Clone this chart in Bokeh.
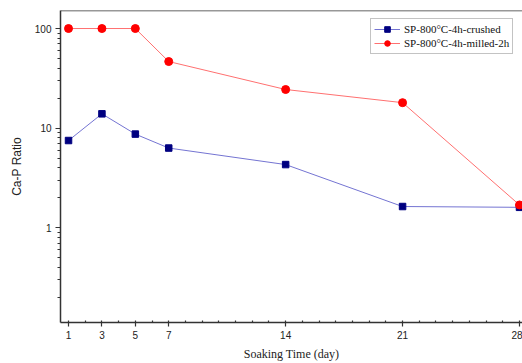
from bokeh.plotting import figure
from bokeh.models import (FixedTicker, PrintfTickFormatter, Range1d, Span,
                          Legend, LegendItem)
from bokeh.embed import file_html
from bokeh.resources import INLINE

# Soaking time (days) and Ca/P ratios for the two powders
days = [1, 3, 5, 7, 14, 21, 28]
crushed = [7.5, 13.9, 8.7, 6.3, 4.3, 1.63, 1.60]
milled = [100, 100, 100, 46.6, 24.4, 18.0, 1.69]

x_major = [1, 3, 5, 7, 14, 21, 28]
x_minor = list(range(1, 29))
y_major = [1, 10, 100]
y_minor = [0.2, 0.3, 0.4, 0.5, 0.6, 0.7, 0.8, 0.9,
           2, 3, 4, 5, 6, 7, 8, 9,
           20, 30, 40, 50, 60, 70, 80, 90]

label_crushed = "SP-800\u00b0C-4h-crushed"
label_milled = "SP-800\u00b0C-4h-milled-2h"

y_lo, y_hi = 0.1115, 151.7

p = figure(width=522, height=363, y_axis_type="log",
           output_backend="svg", toolbar_location=None,
           x_range=Range1d(0.52, 28.18), y_range=Range1d(y_lo, y_hi),
           min_border_left=60, min_border_right=0,
           min_border_top=10, min_border_bottom=41)

p.background_fill_color = "white"
p.border_fill_color = "white"
p.outline_line_color = None
p.xgrid.visible = False
p.ygrid.visible = False

# top frame edge
p.add_layout(Span(location=y_hi, dimension="width",
                  line_color="#333333", line_width=1.5))

axis_color = "#333333"
for ax in (p.xaxis[0], p.yaxis[0]):
    ax.axis_line_color = axis_color
    ax.axis_line_width = 1.5
    ax.major_tick_line_color = axis_color
    ax.minor_tick_line_color = axis_color
    ax.major_tick_line_width = 1.2
    ax.minor_tick_line_width = 1.2
    ax.major_label_text_font = "Liberation Sans"
    ax.major_label_text_font_size = "10px"
    ax.major_label_text_color = "#222222"
    ax.axis_label_text_font_style = "normal"
    ax.axis_label_text_color = "#222222"

xa = p.xaxis[0]
xa.ticker = FixedTicker(ticks=x_major, minor_ticks=x_minor)
xa.major_tick_in = 0
xa.major_tick_out = 4
xa.minor_tick_in = 2
xa.minor_tick_out = 0
xa.major_label_standoff = 4
xa.axis_label = "Soaking Time (day)"
xa.axis_label_text_font = "Liberation Serif"
xa.axis_label_text_font_size = "12px"
xa.axis_label_standoff = 5

ya = p.yaxis[0]
ya.ticker = FixedTicker(ticks=y_major, minor_ticks=y_minor)
ya.formatter = PrintfTickFormatter(format="%d")
ya.major_tick_in = 0
ya.major_tick_out = 5
ya.minor_tick_in = 0
ya.minor_tick_out = 3
ya.major_label_standoff = 4
ya.axis_label = "Ca-P Ratio"
ya.axis_label_text_font = "Liberation Sans"
ya.axis_label_text_font_size = "12px"
ya.axis_label_standoff = 8

r_cl = p.line(days, crushed, line_color="#7474d2", line_width=1)
r_cm = p.scatter(days, crushed, marker="square", size=6.5,
                 fill_color="#000080", line_color="#000080")
r_ml = p.line(days, milled, line_color="#ff7070", line_width=1)
r_mm = p.scatter(days, milled, marker="circle", size=8,
                 fill_color="#ff0000", line_color="#ff0000")

legend = Legend(items=[LegendItem(label=label_crushed, renderers=[r_cl, r_cm]),
                       LegendItem(label=label_milled, renderers=[r_ml, r_mm])],
                location=(310, 268))
legend.label_text_font = "Liberation Serif"
legend.label_text_font_size = "11px"
legend.label_text_color = "#111111"
legend.border_line_color = "#888888"
legend.border_line_width = 1
legend.background_fill_alpha = 1
legend.padding = 3
legend.spacing = 0
legend.margin = 0
legend.glyph_width = 26
legend.glyph_height = 14
legend.label_standoff = 4
legend.label_height = 14
p.add_layout(legend)

open("out.html", "w").write(file_html(p, INLINE))
